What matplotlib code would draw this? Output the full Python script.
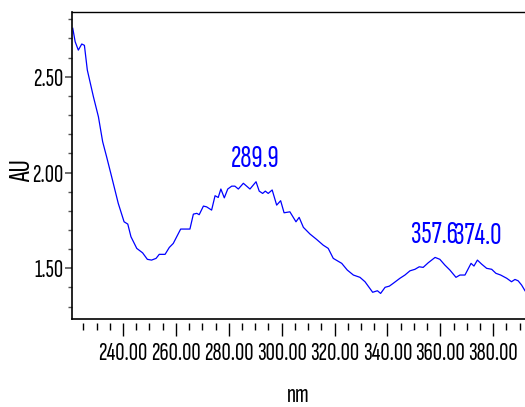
import matplotlib
matplotlib.use("Agg")
import matplotlib.pyplot as plt
import numpy as np
from matplotlib.ticker import MultipleLocator, FixedLocator

plt.rcParams["font.family"] = ["Sofia Sans Extra Condensed", "Archivo Narrow",
                               "Liberation Sans", "DejaVu Sans"]

# 波长 (nm) 与吸光度 (AU)
wl = [221.0, 221.9, 223.1, 224.4, 225.4, 226.5, 228.8, 230.7, 232.3, 233.8,
      235.7, 238.2, 240.4, 241.8, 243.0, 245.2, 247.4, 249.2, 250.8, 252.5,
      253.7, 255.9, 257.5, 259.0, 261.8, 265.3, 266.6, 267.9, 268.8, 270.4,
      271.6, 273.5, 274.8, 276.0, 277.0, 278.3, 279.6, 281.1, 282.3, 283.6,
      285.5, 288.0, 290.3, 291.5, 292.8, 293.8, 294.9, 296.4, 298.1, 299.6,
      300.9, 303.1, 305.4, 306.6, 308.2, 310.7, 313.2, 315.7, 317.6, 319.5,
      322.7, 324.8, 327.1, 329.6, 331.5, 334.4, 336.2, 337.4, 339.1, 340.7,
      342.2, 344.7, 346.6, 348.5, 350.4, 352.0, 353.5, 355.4, 358.0, 359.8,
      361.7, 363.6, 365.9, 367.4, 369.3, 371.6, 372.7, 374.0, 375.6, 377.5,
      379.4, 381.0, 382.8, 385.1, 386.9, 388.2, 389.4, 390.7, 392.0]
au = [2.753, 2.683, 2.639, 2.671, 2.664, 2.535, 2.396, 2.291, 2.161, 2.082,
      1.978, 1.839, 1.743, 1.731, 1.665, 1.604, 1.581, 1.547, 1.543, 1.552,
      1.573, 1.573, 1.609, 1.630, 1.705, 1.705, 1.783, 1.787, 1.780, 1.825,
      1.821, 1.804, 1.879, 1.870, 1.914, 1.868, 1.914, 1.929, 1.929, 1.914,
      1.944, 1.914, 1.952, 1.903, 1.891, 1.903, 1.891, 1.909, 1.830, 1.853,
      1.790, 1.795, 1.743, 1.766, 1.714, 1.679, 1.651, 1.621, 1.604, 1.552,
      1.526, 1.491, 1.465, 1.453, 1.430, 1.375, 1.383, 1.369, 1.401, 1.407,
      1.422, 1.448, 1.465, 1.487, 1.495, 1.508, 1.505, 1.529, 1.557, 1.547,
      1.517, 1.491, 1.453, 1.465, 1.465, 1.526, 1.512, 1.543, 1.522, 1.500,
      1.495, 1.474, 1.465, 1.448, 1.430, 1.442, 1.435, 1.413, 1.383]

peaks = [289.9, 357.6, 374.0]
peak_labels = ["289.9", "357.6", "374.0"]

fig = plt.figure(figsize=(5.25, 4.07), dpi=100)
ax = fig.add_axes([0.1371, 0.2155, 1 - 0.1371, 0.9705 - 0.2155])
ax.plot(wl, au, color="#0000ff", lw=0.9)
ax.set_xlim(220.7, 392.0)
ax.set_ylim(1.234, 2.838)

for p, lab in zip(peaks, peak_labels):
    ax.annotate(lab, (p, np.interp(p, wl, au)), xytext=(0, 7),
                textcoords="offset points", ha="center", va="bottom",
                color="#0000ff", fontsize=22.5)

# 边框：底边画实线，刻度向下错开
ax.spines["right"].set_visible(False)
ax.spines["bottom"].set_position(("outward", 3))
ax.spines["bottom"].set_color("none")
ax.plot([0, 1], [0, 0], transform=ax.transAxes, color="black", lw=1.2,
        clip_on=False)
ax.spines["top"].set_linewidth(1.0)
ax.spines["left"].set_linewidth(1.2)

ax.xaxis.set_major_locator(FixedLocator(np.arange(240, 400, 20)))
ax.xaxis.set_minor_locator(MultipleLocator(5))
ax.set_xticklabels([f"{v:.2f}" for v in np.arange(240, 400, 20)])
ax.yaxis.set_major_locator(FixedLocator([1.5, 2.0, 2.5]))
ax.yaxis.set_minor_locator(MultipleLocator(0.1))
ax.set_yticklabels(["1.50", "2.00", "2.50"])

ax.tick_params(axis="x", which="major", length=9, width=1, pad=4,
               labelsize=18.5, color="black")
ax.tick_params(axis="x", which="minor", length=5, width=1, color="black")
ax.tick_params(axis="y", which="major", length=5, width=1.2, pad=1,
               labelsize=18.5, color="#555555")
ax.tick_params(axis="y", which="minor", length=3, width=1, color="#555555")

ax.set_xlabel("nm", fontsize=19, labelpad=14)
fig.text(0.043, 0.58, "AU", rotation=90, fontsize=22, ha="center", va="center")

fig.savefig("out.png", dpi=100)
